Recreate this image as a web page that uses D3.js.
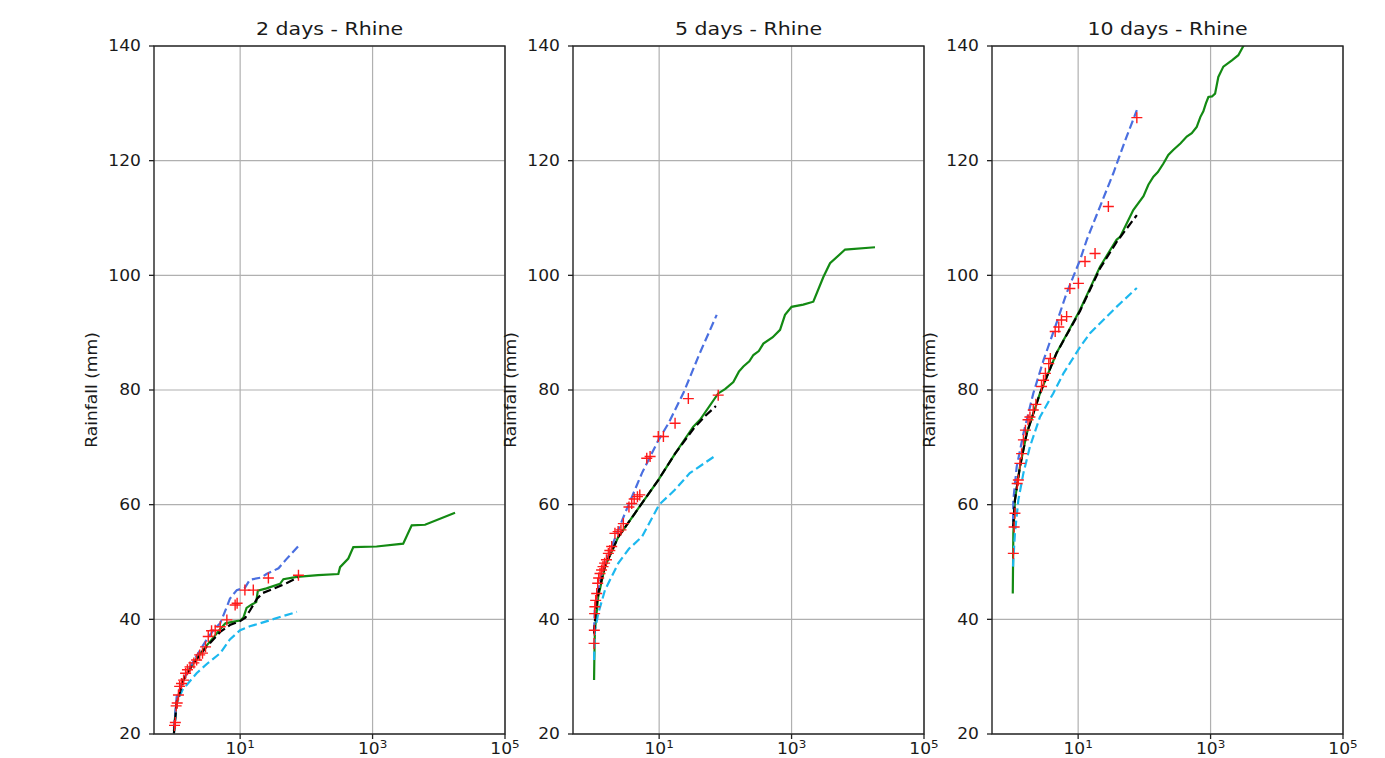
<!DOCTYPE html>
<html lang="en">
<head>
    <meta charset="utf-8">
    <title>Rhine rainfall return periods</title>
    <style>
        body { margin: 0; background: #fff; }
        svg { display: block; }
        text { font-family: "DejaVu Sans", sans-serif; fill: #1a1a1a; }
        .grid line { stroke: #b0b0b0; stroke-width: 1.2px; }
        .spine { fill: none; stroke: #222; stroke-width: 1.4px; }
        .tick { stroke: #222; stroke-width: 1.3px; }
        .line { fill: none; stroke-width: 2.2px; }
    </style>
</head>
<body>
<svg width="1385" height="758"></svg>
<script src="https://cdn.jsdelivr.net/npm/d3@7/dist/d3.min.js"></script>
<script>
    // panel titles
    const titles = ["2 days - Rhine", "5 days - Rhine", "10 days - Rhine"];

    // tick values
    const yTicks = [20, 40, 60, 80, 100, 120, 140];
    const xTicks = [1e1, 1e3, 1e5];
    const xTickExp = ["1", "3", "5"];

    // [return period, rainfall mm]
    // 2 days
    const green1 = [[1.0,20.5],[1.05,23.5],[1.1,25.5],[1.25,28],[1.4,29.6],[1.7,31.3],[2,32.5],[2.5,34],[3,35.2],[4,36.9],[5,38.3],[6,39.3],[8,39.6],[10,39.8],[11.2,40.3],[12.5,42.0],[15,42.6],[17.5,43.0],[18.5,45.0],[25,45.4],[40,46.2],[45,47.0],[72,47.4],[150,47.7],[304,47.9],[323,49.1],[430,50.6],[512,52.6],[1150,52.7],[2900,53.2],[3900,56.4],[6200,56.5],[17600,58.6]];
    const black1 = [[1.0,20.1],[1.1,25.4],[1.39,29.4],[1.96,32.3],[3.1,35.2],[5,37.8],[7,39.0],[10,39.7],[12,40.3],[14,41.5],[18,43.6],[22,44.6],[30,45.2],[50,46.3],[75,47.3]];
    const blue1 = [[1.0,21],[1.1,26.5],[1.4,29.5],[1.75,31.7],[2.3,34],[3.1,36.4],[4,38.2],[5,39.3],[6.3,42.2],[7,43.6],[8.9,45.1],[11.8,45.5],[14,46.9],[21,47.3],[25,47.9],[38,48.9],[50,50.5],[76,52.8]];
    const cyan1 = [[1.0,20.1],[1.1,25.4],[1.35,27.7],[2.2,30.6],[3.2,32.3],[5,34.1],[7,36.5],[10,38.1],[14,38.8],[20,39.3],[40,40.4],[72,41.3]];
    const red1 = [[76,47.7],[26.7,47.2],[15.8,45.1],[11.8,45.1],[9.0,42.8],[8.4,42.5],[6.3,39.9],[5.0,38.7],[4.2,38.1],[3.7,38.0],[3.3,37.0],[3.0,35.2],[2.7,34.1],[2.45,33.8],[2.2,32.9],[2.0,32.4],[1.75,31.7],[1.6,31.2],[1.5,30.6],[1.4,29.4],[1.3,28.8],[1.22,28.3],[1.17,26.8],[1.12,25.4],[1.08,24.9],[1.05,22.0],[1.02,21.5]];

    // 5 days
    const green2 = [[1.04,29.4],[1.05,33],[1.07,38],[1.2,43.9],[1.52,49.2],[2.42,54.4],[4.3,58.5],[9.7,64.3],[17.4,68.9],[32.8,73.6],[41.4,74.8],[78,79.4],[100,80.2],[132,81.4],[160,83.2],[187,84.1],[230,85.0],[265,86.1],[320,86.8],[375,88.1],[520,89.2],[670,90.5],[796,93.1],[1000,94.5],[1500,94.9],[2130,95.4],[3020,99.7],[3810,102.1],[6430,104.5],[18200,104.9]];
    const black2 = [[1.04,37.5],[1.1,41.5],[1.2,44.5],[1.52,49.3],[2.42,54.4],[4.3,58.5],[9.7,64.3],[17.4,68.9],[32.8,73.2],[50,75.5],[72,77.2]];
    const blue2 = [[1.04,38],[1.07,42.2],[1.36,48],[1.92,52.7],[3.05,58.5],[5.5,65.5],[9.5,71.0],[14,74.3],[23.5,79.6],[41,86.4],[74,93.1]];
    const cyan2 = [[1.04,32.9],[1.07,38],[1.2,41],[1.52,45.1],[2.42,49.8],[3.5,52.3],[5.5,54.4],[10,60],[17,62.5],[29,65.5],[74,68.7]];
    const red2 = [[78,79.1],[27.6,78.5],[17.4,74.2],[11.6,71.9],[9.7,71.9],[7.3,68.4],[6.5,68.1],[5.1,61.7],[4.7,61.4],[4.2,61.0],[3.85,60.2],[3.5,59.6],[2.88,56.7],[2.65,55.6],[2.4,55.3],[2.15,55.0],[1.92,52.7],[1.8,52.0],[1.71,51.5],[1.6,50.4],[1.5,49.8],[1.42,49.2],[1.35,48.6],[1.28,48.0],[1.22,47.2],[1.18,46.3],[1.14,44.5],[1.1,43.3],[1.07,42.2],[1.06,41.0],[1.05,38.1],[1.04,35.8]];

    // 10 days
    const green3 = [[1.03,44.5],[1.05,55],[1.11,60.8],[1.32,66.6],[1.67,72.4],[2.65,79.4],[4.7,86.4],[10.7,94.0],[21.4,101.5],[38,106.2],[43,106.7],[55,109.2],[68,111.4],[97,113.8],[115,115.8],[137,117.2],[160,118.0],[194,119.5],[230,121.0],[275,121.9],[350,123.0],[437,124.2],[520,124.8],[618,125.9],[700,127.6],[778,128.6],[850,130.0],[927,131.1],[1050,131.2],[1170,131.7],[1310,134.6],[1560,136.4],[2100,137.5],[2625,138.4],[3130,140],[4000,142]];
    const black3 = [[1.04,56],[1.11,60.8],[1.32,66.6],[1.67,72.4],[2.65,79.4],[4.7,86.4],[10.7,93.8],[21.4,101.2],[38,105.8],[77,110.5]];
    const blue3 = [[1.04,57],[1.05,60.8],[1.18,66.6],[1.49,72.4],[2.1,79.4],[3,85.2],[4.5,91],[6.7,96.9],[10.7,102.7],[13.5,106.2],[21.4,112],[34,117.8],[54,124.2],[77,128.8]];
    const cyan3 = [[1.04,49.2],[1.05,50.4],[1.11,55],[1.25,60.8],[1.49,65.5],[1.87,70.1],[2.65,75.3],[4.2,79.4],[6,82.9],[10.7,87.5],[15.1,89.9],[38,94.5],[77,97.8]];
    const red3 = [[77,127.5],[28.6,112],[18,103.8],[12.7,102.4],[10.1,98.6],[7.5,97.7],[6.7,92.8],[5.6,92.2],[5.1,91.0],[4.5,90.2],[3.8,85.5],[3.6,84.6],[3.2,82.9],[3.0,81.7],[2.8,80.6],[2.3,77.5],[2.1,76.5],[1.87,75.3],[1.75,74.8],[1.6,73],[1.49,71.3],[1.4,68.9],[1.32,67.2],[1.25,64.3],[1.2,63.7],[1.11,58.5],[1.08,56.1],[1.05,51.5]];

    const panels = [
        {title: titles[0], green: green1, black: black1, blue: blue1, cyan: cyan1, red: red1},
        {title: titles[1], green: green2, black: black2, blue: blue2, cyan: cyan2, red: red2},
        {title: titles[2], green: green3, black: black3, blue: blue3, cyan: cyan3, red: red3}
    ];

    // layout
    const lefts = [154, 573, 992],
        marginTop = 46,
        width = 351,
        height = 688,
        stretch = 1.14; // text in the picture is a bit wider than DejaVu

    const x = d3.scaleLog().domain([0.5, 1e5]).range([0, width]);
    const y = d3.scaleLinear().domain([20, 140]).range([height, 0]);

    const line = d3.line()
        .x(d => x(d[0]))
        .y(d => y(d[1]));

    const svg = d3.select("svg");

    svg.append("defs").append("clipPath")
        .attr("id", "plot-clip")
        .append("rect")
        .attr("width", width)
        .attr("height", height);

    panels.forEach(function (p, i) {
        const g = svg.append("g")
            .attr("transform", "translate(" + lefts[i] + "," + marginTop + ")");

        // grid
        const grid = g.append("g").attr("class", "grid");
        grid.selectAll(".gy").data(yTicks).enter().append("line")
            .attr("x1", 0).attr("x2", width)
            .attr("y1", d => y(d)).attr("y2", d => y(d));
        grid.selectAll(".gx").data(xTicks).enter().append("line")
            .attr("x1", d => x(d)).attr("x2", d => x(d))
            .attr("y1", 0).attr("y2", height);

        // series
        const plot = g.append("g").attr("clip-path", "url(#plot-clip)");

        plot.append("path").datum(p.green)
            .attr("class", "line")
            .attr("stroke", "#138a13")
            .attr("d", line);
        plot.append("path").datum(p.cyan)
            .attr("class", "line")
            .attr("stroke", "#1cb8ef")
            .attr("stroke-dasharray", "8.5,4")
            .attr("d", line);
        plot.append("path").datum(p.blue)
            .attr("class", "line")
            .attr("stroke", "#4a6fe0")
            .attr("stroke-dasharray", "8.5,4")
            .attr("d", line);
        plot.append("path").datum(p.black)
            .attr("class", "line")
            .attr("stroke", "#000")
            .attr("stroke-dasharray", "8.5,4")
            .attr("d", line);

        plot.selectAll(".mk").data(p.red).enter().append("path")
            .attr("class", "mk")
            .attr("transform", d => "translate(" + x(d[0]) + "," + y(d[1]) + ")")
            .attr("d", "M-5.5,0H5.5M0,-5.5V5.5")
            .attr("stroke", "#ff1a1a")
            .attr("stroke-width", 1.4)
            .attr("fill", "none");

        // spines
        g.append("rect")
            .attr("class", "spine")
            .attr("width", width)
            .attr("height", height);

        // y ticks
        const ya = g.append("g");
        ya.selectAll("line").data(yTicks).enter().append("line")
            .attr("class", "tick")
            .attr("x1", -5).attr("x2", 0)
            .attr("y1", d => y(d)).attr("y2", d => y(d));
        ya.selectAll("text").data(yTicks).enter().append("text")
            .attr("transform", d => "translate(-13," + y(d) + ") scale(" + stretch + ",1)")
            .attr("dy", "0.36em")
            .attr("text-anchor", "end")
            .style("font-size", "15px")
            .text(d => d);

        // x ticks
        const xa = g.append("g");
        xa.selectAll("line").data(xTicks).enter().append("line")
            .attr("class", "tick")
            .attr("x1", d => x(d)).attr("x2", d => x(d))
            .attr("y1", height).attr("y2", height + 5);
        const xl = xa.selectAll("text").data(xTicks).enter().append("text")
            .attr("transform", d => "translate(" + x(d) + "," + (height + 20) + ") scale(" + stretch + ",1)")
            .attr("text-anchor", "middle")
            .style("font-size", "15px");
        xl.append("tspan").text("10");
        xl.append("tspan")
            .attr("dy", -6.5)
            .style("font-size", "10.5px")
            .text((d, j) => xTickExp[j]);

        // y label
        g.append("text")
            .attr("transform", "translate(-57," + (height / 2) + ") rotate(-90) scale(" + stretch + ",1)")
            .attr("text-anchor", "middle")
            .style("font-size", "15px")
            .text("Rainfall (mm)");

        // title
        g.append("text")
            .attr("transform", "translate(" + (width / 2) + "," + (35 - marginTop) + ") scale(" + stretch + ",1)")
            .attr("text-anchor", "middle")
            .style("font-size", "18px")
            .text(p.title);
    });
</script>
</body>
</html>
